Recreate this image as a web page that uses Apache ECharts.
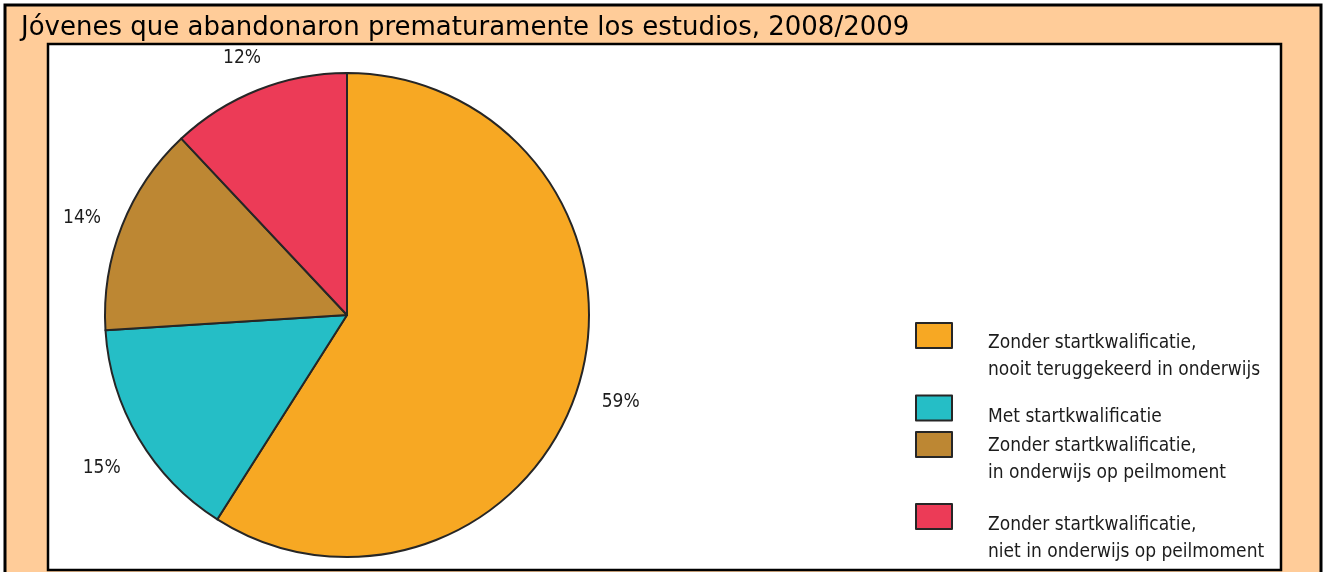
<!DOCTYPE html>
<html>
<head>
<meta charset="utf-8">
<script src="https://cdn.jsdelivr.net/npm/echarts@6/dist/echarts.min.js"></script>
<style>
  html, body { margin: 0; padding: 0; background: #fff; }
  #chart { width: 1323px; height: 572px; }
</style>
</head>
<body>
<div id="chart"></div>
<script>
// categories and values
const categories = [
  'Zonder startkwalificatie,\nnooit teruggekeerd in onderwijs',
  'Met startkwalificatie',
  'Zonder startkwalificatie,\nin onderwijs op peilmoment',
  'Zonder startkwalificatie,\nniet in onderwijs op peilmoment'
]
const shares = [59, 15, 14, 12]
const sliceColors = ['#F7A823', '#25BEC6', '#BD8733', '#EC3B57']

const chartTitle = 'Jóvenes que abandonaron prematuramente los estudios, 2008/2009'

let pieData = []
for (let i = 0; i < categories.length; i++) {
  pieData.push({
    name: categories[i],
    value: shares[i],
    itemStyle: { color: sliceColors[i] }
  })
}

// one legend per item, so the gaps can follow the picture
const legendTops = [308, 394, 417, 489]
const legendPads = [42, 18, 30, 44]
let legends = []
for (let i = 0; i < categories.length; i++) {
  legends.push({
    data: [categories[i]],
    left: 915,
    top: legendTops[i],
    padding: 0,
    icon: 'rect',
    itemWidth: 36,
    itemHeight: 25,
    selectedMode: false,
    // blank first line pushes the text below the icon centre
    formatter: name => '{s| }\n' + name.split('\n').map(l => '{t|' + l + '}').join('\n'),
    textStyle: {
      padding: [0, 0, 0, 31],
      rich: {
        s: { fontSize: 1, lineHeight: legendPads[i] },
        t: {
          fontFamily: 'DejaVu Sans Condensed',
          fontSize: 19,
          lineHeight: 27,
          color: '#1c1c1c'
        }
      }
    }
  })
}

let chart = echarts.init(document.getElementById('chart'))
chart.setOption({
  animation: false,
  backgroundColor: '#fff',
  title: {
    text: chartTitle,
    left: 21,
    top: 13,
    padding: 0,
    textStyle: {
      fontFamily: 'DejaVu Sans',
      fontWeight: 'normal',
      fontSize: 26,
      lineHeight: 30,
      color: '#000'
    }
  },
  graphic: [
    {
      type: 'rect',
      z: -10,
      shape: { x: 5, y: 5, width: 1316, height: 620 },
      style: { fill: '#FFCC99', stroke: '#000', lineWidth: 3 }
    },
    {
      type: 'rect',
      z: -9,
      shape: { x: 48, y: 44, width: 1233, height: 526 },
      style: { fill: '#fff', stroke: '#000', lineWidth: 2.5 }
    }
  ],
  legend: legends,
  series: [
    {
      type: 'pie',
      center: [347, 315],
      radius: 242,
      startAngle: 90,
      clockwise: true,
      silent: true,
      label: { show: false },
      labelLine: { show: false },
      itemStyle: { borderColor: '#262626', borderWidth: 2 },
      data: pieData
    },
    {
      // invisible ring, only carries the percentage labels
      type: 'pie',
      center: [347, 315],
      radius: [260, 304],
      startAngle: 90,
      clockwise: true,
      silent: true,
      legendHoverLink: false,
      itemStyle: { color: 'rgba(0,0,0,0)', borderWidth: 0 },
      label: {
        show: true,
        position: 'inside',
        formatter: '{c}%',
        offset: [0, 8],
        fontFamily: 'DejaVu Sans Condensed',
        fontSize: 19,
        color: '#1c1c1c'
      },
      labelLine: { show: false },
      data: pieData.map(d => ({ name: d.name, value: d.value }))
    }
  ]
})
</script>
</body>
</html>
